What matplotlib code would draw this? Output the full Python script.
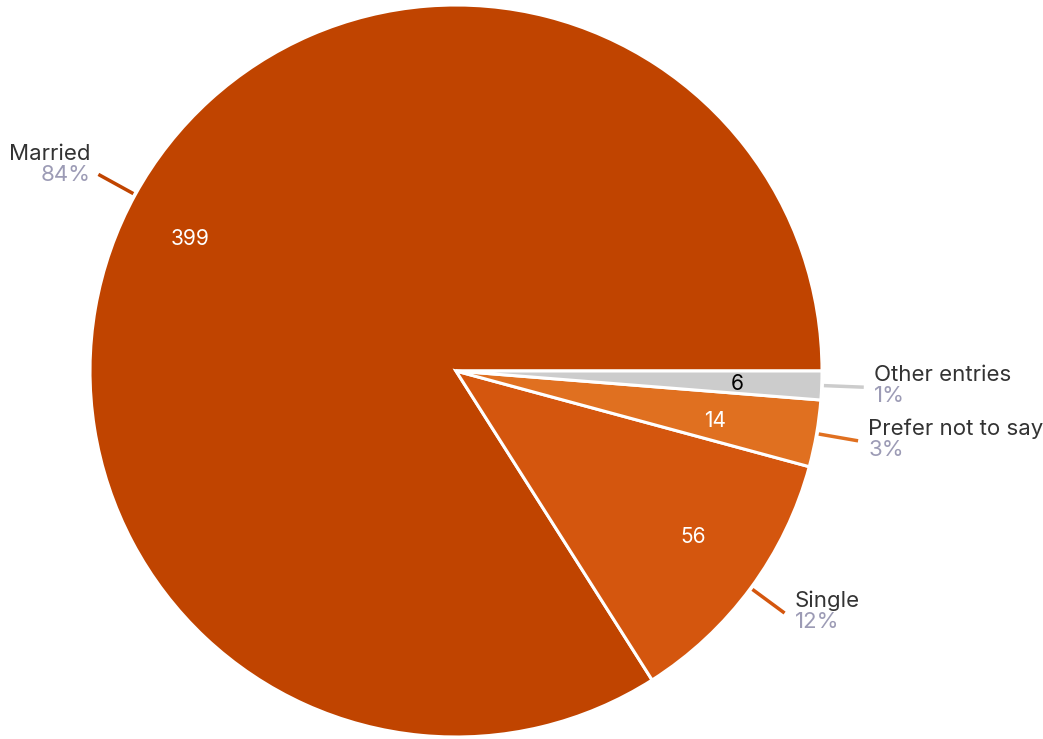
import numpy as np
import matplotlib.pyplot as plt

labels = ['Married', 'Single', 'Prefer not to say', 'Other entries']
counts = [399, 56, 14, 6]
pcts = ['84%', '12%', '3%', '1%']
colors = ['#C04400', '#D4560E', '#E07020', '#CCCCCC']
value_colors = ['white', 'white', 'white', 'black']
value_dist = [0.81, 0.79, 0.72, 0.77]
value_shift = [2.4, 1.4, -1.0, -0.4]   # degrees off the wedge middle

W, H = 1043, 739
fig = plt.figure(figsize=(W / 100, H / 100), dpi=100)
ax = fig.add_axes([0, 0, 1, 1])
plt.rcParams['font.family'] = ['Inter', 'DejaVu Sans']

cx, cy, R = 456, H - 371, 366
wedges, _ = ax.pie(counts, colors=colors, startangle=0, counterclock=True,
                   center=(cx, cy), radius=R, frame=True,
                   wedgeprops=dict(edgecolor='white', linewidth=2.2))

for w, lab, n, p, c, vc, vd, vs in zip(wedges, labels, counts, pcts, colors,
                                       value_colors, value_dist, value_shift):
    mid = (w.theta1 + w.theta2) / 2
    a = np.deg2rad(mid)
    b = np.deg2rad(mid + vs)
    ca, sa = np.cos(a), np.sin(a)
    ax.text(cx + vd * R * np.cos(b), cy + vd * R * np.sin(b), str(n), color=vc,
            fontsize=15, ha='center', va='center')
    # leader line
    ax.plot([cx + 1.006 * R * ca, cx + 1.115 * R * ca],
            [cy + 1.006 * R * sa, cy + 1.115 * R * sa],
            color=c, lw=2.5, solid_capstyle='butt')
    ex, ey = cx + 1.115 * R * ca, cy + 1.115 * R * sa
    if ca >= 0:
        tx, ha, dy = ex + 10, 'left', 0
    else:
        tx, ha, dy = ex - 8, 'right', 8
    ax.text(tx, ey + 2 + dy, lab, color='#333333', fontsize=16, ha=ha, va='bottom')
    ax.text(tx, ey + 1 + dy, p, color='#9C9BB5', fontsize=16, ha=ha, va='top')

ax.set_xlim(0, W)
ax.set_ylim(0, H)
ax.set_aspect('equal')
ax.axis('off')

plt.savefig('out.png', dpi=100)
